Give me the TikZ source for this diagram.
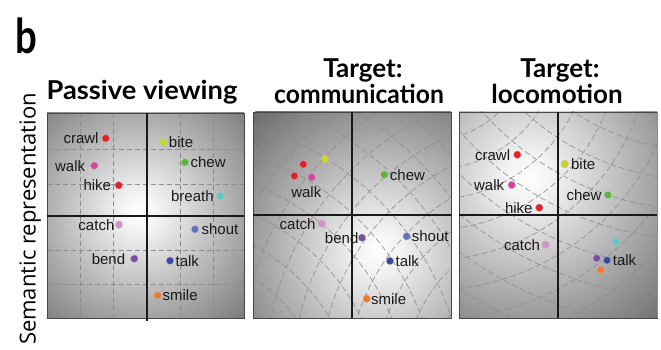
\documentclass[tikz,border=0pt]{standalone}
\usepackage{fontspec}
\setmainfont{Liberation Sans}
\newfontfamily\titlefont{Lato}
\newfontfamily\sidefont{Open Sans}
\pgfdeclareradialshading{spot}{\pgfpoint{0bp}{0bp}}{color(0bp)=(white); color(3bp)=(black!5); color(25bp)=(black!58); color(50bp)=(black!58)}
\definecolor{cred}{RGB}{230,30,40}
\definecolor{cpink}{RGB}{214,68,160}
\definecolor{cyg}{RGB}{200,214,40}
\definecolor{cgreen}{RGB}{92,180,60}
\definecolor{ccyan}{RGB}{90,200,195}
\definecolor{clilac}{RGB}{210,145,195}
\definecolor{cslate}{RGB}{100,115,190}
\definecolor{cpurple}{RGB}{120,80,160}
\definecolor{cblue}{RGB}{55,75,165}
\definecolor{corange}{RGB}{240,120,40}
\begin{document}
\begin{tikzpicture}[x=1pt,y=-1pt,
  frame/.style={draw=black!72, line width=0.9pt},
  axisline/.style={draw=black!90, line width=2.6pt},
  gridd/.style={draw=black!45, line width=0.6pt, dash pattern=on 5pt off 3pt},
  gridc/.style={draw=black!45, line width=0.6pt, dash pattern=on 6pt off 3pt},
  dot/.style={circle, inner sep=0pt, minimum size=7.6pt, draw=black!25, line width=0.3pt},
  lbl/.style={font=\fontsize{15}{15}\selectfont, inner sep=0pt, text=black!90},
  title/.style={font=\titlefont\bfseries\fontsize{26}{26}\selectfont, anchor=base, inner sep=0pt}]
\useasboundingbox (0,0) rectangle (661,350);

% heading texts
\node[font=\titlefont\bfseries\fontsize{48}{48}\selectfont, anchor=base west, inner sep=0pt] (blabel) at (15,54) {\scalebox{0.8}[1]{b}};
\node[rotate=90, anchor=base, font=\sidefont\fontsize{22}{22}\selectfont, inner sep=0pt] (side) at (35.5,219) {Semantic representation};
\node[title] (t1) at (142,99.3) {\scalebox{1.05}[1]{Passive viewing}};
\node[title] (t2a) at (363,77.5) {Target:};
\node[title] (t2b) at (359,103.3) {\scalebox{0.95}[1]{communication}};
\node[title] (t3a) at (560,77.5) {Target:};
\node[title] (t3b) at (557,103.3) {locomotion};

% ---------- panel 1 ----------
\begin{scope}
  \clip (47,113) rectangle (244,318);
  \shade[shading=spot] (140,212) circle[radius=165pt];
  \foreach \gx in {80.3,113.7,180.3,213.7} \draw[gridd] (\gx,113) -- (\gx,318);
  \foreach \gy in {149.3,184,250,284.3} \draw[gridd] (47,\gy) -- (244,\gy);
\end{scope}
\draw[frame] (47,113) rectangle (244,318);
\draw[axisline] (147,113) -- (147,321);
\draw[axisline] (47,216) -- (244,216);

\node[dot, fill=cred] (a1) at (105.7,138.3) {};
\node[dot, fill=cpink] (a2) at (94.3,165.7) {};
\node[dot, fill=cred] (a3) at (118.7,185.3) {};
\node[dot, fill=cyg] (a4) at (163.3,142.3) {};
\node[dot, fill=cgreen] (a5) at (185,162.3) {};
\node[dot, fill=ccyan] (a6) at (220.3,196) {};
\node[dot, fill=clilac] (a7) at (119,224.7) {};
\node[dot, fill=cslate] (a8) at (195,229.3) {};
\node[dot, fill=cpurple] (a9) at (134.3,258.7) {};
\node[dot, fill=cblue] (a10) at (170,260.7) {};
\node[dot, fill=corange] (a11) at (157.7,295.3) {};
\node[lbl, anchor=east] (a1l) at ([xshift=-3pt]a1.west) {crawl};
\node[lbl, anchor=east] (a2l) at ([xshift=-5pt]a2.west) {walk};
\node[lbl, anchor=east] (a3l) at ([xshift=-3.5pt]a3.west) {hike};
\node[lbl, anchor=west] (a4l) at ([xshift=1.5pt]a4.east) {bite};
\node[lbl, anchor=west] (a5l) at ([xshift=1.5pt]a5.east) {chew};
\node[lbl, anchor=east] (a6l) at ([xshift=-2.5pt]a6.west) {breath};
\node[lbl, anchor=east] (a7l) at ([xshift=-0.5pt]a7.west) {catch};
\node[lbl, anchor=west] (a8l) at ([xshift=2.5pt]a8.east) {shout};
\node[lbl, anchor=east] (a9l) at ([xshift=-5pt]a9.west) {bend};
\node[lbl, anchor=west] (a10l) at ([xshift=1.5pt]a10.east) {talk};
\node[lbl, anchor=west] (a11l) at ([xshift=0.8pt]a11.east) {smile};

% ---------- panel 2 ----------
\begin{scope}
  \clip (253,112) rectangle (451,318);
  \shade[shading=spot] (378,250) circle[radius=185pt];
  \foreach \r in {128,156,...,420} \draw[gridc] (170,410) circle[radius=\r pt];
  \foreach \r in {128,156,...,420} \draw[gridc] (560,380) circle[radius=\r pt];
\end{scope}
\draw[frame] (253,112) rectangle (451,318);
\draw[axisline] (352,112) -- (352,318);
\draw[axisline] (253,215) -- (451,215);

\node[dot, fill=cred] (b1) at (303.3,164.3) {};
\node[dot, fill=cyg] (b2) at (325,159) {};
\node[dot, fill=cred] (b3) at (294.3,176) {};
\node[dot, fill=cpink] (b4) at (311.7,177.3) {};
\node[dot, fill=cgreen] (b5) at (384.3,174.7) {};
\node[dot, fill=clilac] (b6) at (321.7,223.7) {};
\node[dot, fill=cpurple] (b7) at (362,237.7) {};
\node[dot, fill=cslate] (b8) at (406.7,236.3) {};
\node[dot, fill=cblue] (b9) at (390,261) {};
\node[dot, fill=corange] (b10) at (366.7,298.7) {};
\node[lbl] (b4l) at (306.3,191.7) {walk};
\node[lbl, anchor=west] (b5l) at ([xshift=1.5pt]b5.east) {chew};
\node[lbl, anchor=east] (b6l) at ([xshift=-2pt]b6.west) {catch};
\node[lbl, anchor=east] (b7l) at ([xshift=0.5pt]b7.west) {bend};
\node[lbl, anchor=west] (b8l) at ([xshift=1pt]b8.east) {shout};
\node[lbl, anchor=west] (b9l) at ([xshift=1.5pt]b9.east) {talk};
\node[lbl, anchor=west] (b10l) at ([xshift=0.3pt]b10.east) {smile};

% ---------- panel 3 ----------
\begin{scope}
  \clip (459,112) rectangle (657,318);
  \shade[shading=spot] (528,178) circle[radius=200pt];
  \foreach \r in {100,130,...,380} \draw[gridc] (430,40) circle[radius=\r pt];
  \foreach \r in {200,230,...,480} \draw[gridc] (700,-80) circle[radius=\r pt];
\end{scope}
\draw[frame] (459,112) rectangle (657,318);
\draw[draw=black!45, line width=0.9pt] (657,112) -- (657,318);
\draw[axisline] (558,112) -- (558,318);
\draw[axisline] (459,215) -- (657,215);

\node[dot, fill=cred] (c1) at (517.3,154.7) {};
\node[dot, fill=cyg] (c2) at (564.7,164) {};
\node[dot, fill=cpink] (c3) at (511.7,185) {};
\node[dot, fill=cgreen] (c4) at (608,195) {};
\node[dot, fill=cred] (c5) at (539.3,207.7) {};
\node[dot, fill=clilac] (c6) at (545.7,244.7) {};
\node[dot, fill=ccyan] (c7) at (615.7,241.7) {};
\node[dot, fill=cpurple] (c8) at (596.7,258.3) {};
\node[dot, fill=cblue] (c9) at (607,260.3) {};
\node[dot, fill=corange] (c10) at (600.7,270) {};
\node[lbl, anchor=east] (c1l) at ([xshift=-3pt]c1.west) {crawl};
\node[lbl, anchor=west] (c2l) at ([xshift=2.3pt]c2.east) {bite};
\node[lbl, anchor=east] (c3l) at ([xshift=-3.4pt]c3.west) {walk};
\node[lbl, anchor=east] (c4l) at ([xshift=-2.3pt]c4.west) {chew};
\node[lbl, anchor=east] (c5l) at ([xshift=-2.6pt]c5.west) {hike};
\node[lbl, anchor=east] (c6l) at ([xshift=-1.7pt]c6.west) {catch};
\node[lbl, anchor=west] (c9l) at ([xshift=1.7pt]c9.east) {talk};
\end{tikzpicture}
\end{document}
